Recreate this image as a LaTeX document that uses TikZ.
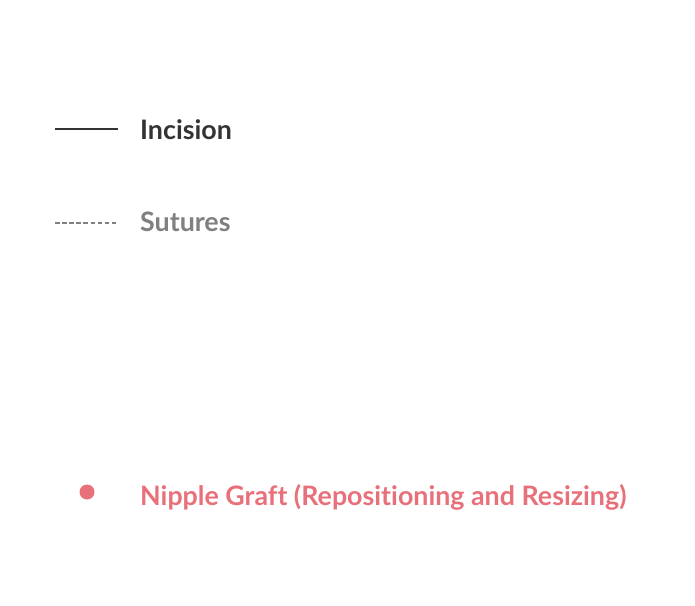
\documentclass[tikz,border=0pt]{standalone}
\usepackage{fontspec}
\setmainfont{Lato}[UprightFont=* Bold,RawFeature=-liga]
\definecolor{incis}{HTML}{333333}
\definecolor{sutur}{HTML}{808080}
\definecolor{graft}{HTML}{E8707A}
\begin{document}
\begin{tikzpicture}[x=1pt,y=-1pt,
  legtext/.style={anchor=west,inner sep=0pt,font=\fontsize{26.8}{30}\selectfont},
  legline/.style={line width=2pt}]
\useasboundingbox (0,0) rectangle (695,605);
\coordinate (i1) at (55,129);
\coordinate (i2) at (118,129);
\draw[legline,incis] (i1) -- (i2);
\node[legtext,text=incis] (inc) at (140,130) {Incision};
\coordinate (s1) at (55,223);
\coordinate (s2) at (118,223);
\draw[line width=1.8pt,sutur,dash pattern=on 4.5pt off 2.6pt] (s1) -- (s2);
\node[legtext,text=sutur] (sut) at (140,222) {Sutures};
\node[circle,fill=graft,minimum size=15pt,inner sep=0pt] (dot) at (87,492) {};
\node[legtext,text=graft] (gr) at (140,497) {Nipple Graft (Repositioning and Resizing)};
\end{tikzpicture}
\end{document}
